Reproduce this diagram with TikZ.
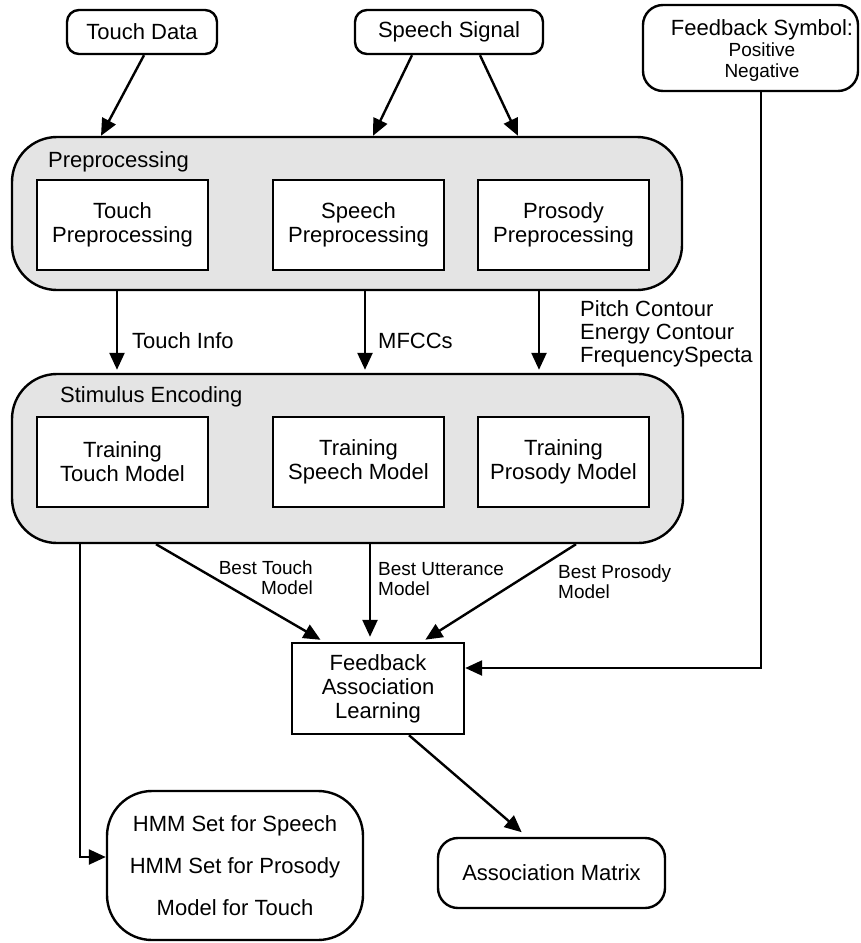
\documentclass[tikz,border=0pt]{standalone}
\usepackage{fontspec}
\setmainfont{Liberation Sans}
\usetikzlibrary{arrows.meta}

\definecolor{groupgray}{RGB}{228,228,228}
\newcommand\mainsz{\fontsize{22}{24}\selectfont}
\newcommand\smallsz{\fontsize{19}{20}\selectfont}

\begin{document}
\begin{tikzpicture}[x=1pt,y=-1pt,
  box/.style={draw, line width=2.4pt, fill=white, align=center, inner sep=0pt, font=\mainsz},
  rbox/.style={box, rounded corners=12pt},
  group/.style={draw, line width=2.4pt, fill=groupgray, rounded corners=45pt, inner sep=0pt},
  stage/.style={box, minimum width=171pt, minimum height=90pt},
  arr/.style={-{Triangle[length=17pt,width=15pt]}, line width=2.4pt},
  lbl/.style={inner sep=0pt, font=\mainsz, align=left},
  slbl/.style={inner sep=0pt, font=\smallsz}
]
\useasboundingbox (0,0) rectangle (860,943);

% inputs
\node[rbox, minimum width=150pt, minimum height=44pt] (touch) at (142,32) {Touch Data};
\node[rbox, minimum width=188pt, minimum height=44pt] (speech) at (449,32) {Speech Signal};
\node[rbox, rounded corners=20pt, minimum width=215pt, minimum height=86pt] (fb) at (750.5,48) {};
\node[align=center, inner sep=0pt, font=\fontsize{19}{21}\selectfont] (fbtxt) at (762,50)
  {{\fontsize{22}{24}\selectfont Feedback Symbol:}\\Positive\\Negative};

% preprocessing group
\node[group, minimum width=670pt, minimum height=153pt] (pre) at (347,213.5) {};
\node[lbl, anchor=west] (prelbl) at (48,162) {Preprocessing};
\node[stage] (tp) at (122.5,225) {Touch\\Preprocessing};
\node[stage] (sp) at (358.5,225) {Speech\\Preprocessing};
\node[stage] (pp) at (563.5,225) {Prosody\\Preprocessing};

% stimulus encoding group
\node[group, minimum width=671pt, minimum height=169pt] (se) at (347.5,458.5) {};
\node[lbl, anchor=west] (selbl) at (60,397) {Stimulus Encoding};
\node[stage] (tt) at (122.5,462) {Training\\Touch Model};
\node[stage] (ts) at (358.5,462) {Training\\Speech Model};
\node[stage] (tpm) at (563.5,462) {Training\\Prosody Model};

% learning and outputs
\node[box, minimum width=172pt, minimum height=91pt] (fbl) at (378,688.5) {Feedback\\Association\\Learning};
\node[box, rounded corners=45pt, minimum width=256pt, minimum height=149pt,
      font=\fontsize{22}{42}\selectfont] (hmm) at (235,865.5)
  {HMM Set for Speech\\HMM Set for Prosody\\Model for Touch};
\node[rbox, rounded corners=20pt, minimum width=227pt, minimum height=70pt] (am) at (551.5,873) {Association Matrix};

% inputs into preprocessing
\draw[arr] ([xshift=2pt]touch.south) -- ([xshift=-246pt]pre.north);
\draw[arr] ([xshift=-37pt]speech.south) -- ([xshift=26pt]pre.north);
\draw[arr] ([xshift=31pt]speech.south) -- ([xshift=171pt]pre.north);

% features into stimulus encoding
\draw[arr, shorten >=3pt] ([xshift=-230pt]pre.south) -- ([xshift=-230.5pt]se.north);
\draw[arr, shorten >=3pt] ([xshift=18pt]pre.south) -- ([xshift=17.5pt]se.north);
\draw[arr, shorten >=3pt] ([xshift=192pt]pre.south) -- ([xshift=191.5pt]se.north);
\node[lbl, anchor=west] (l1) at (132,341) {Touch Info};
\node[lbl, anchor=west] (l2) at (378,341) {MFCCs};
\node[lbl, anchor=west, font=\fontsize{22}{23}\selectfont] (l3) at (580,334)
  {Pitch Contour\\Energy Contour\\FrequencySpecta};

% best models into association learning
\draw[arr, shorten >=4pt] ([xshift=-191.5pt]se.south) -- ([xshift=-54pt]fbl.north);
\draw[arr, shorten >=5pt] ([xshift=22.5pt]se.south) -- ([xshift=-8pt]fbl.north);
\draw[arr, shorten >=4pt] ([xshift=228.5pt]se.south) -- ([xshift=44pt]fbl.north);
\node[slbl, anchor=east, align=right] (b1) at (313,578) {Best Touch\\Model};
\node[slbl, anchor=west, align=left] (b2) at (378,579) {Best Utterance\\Model};
\node[slbl, anchor=west, align=left] (b3) at (558,582) {Best Prosody\\Model};

% feedback symbol into learning
\draw[arr] ([xshift=10.5pt]fb.south) |- ([yshift=20.5pt]fbl.east);

% model sets and association output
\draw[arr] ([xshift=-267.5pt]se.south) |- ([yshift=8.5pt]hmm.west);
\draw[arr, shorten >=7pt] ([xshift=31pt]fbl.south) -- ([xshift=-24.5pt]am.north);
\end{tikzpicture}
\end{document}
